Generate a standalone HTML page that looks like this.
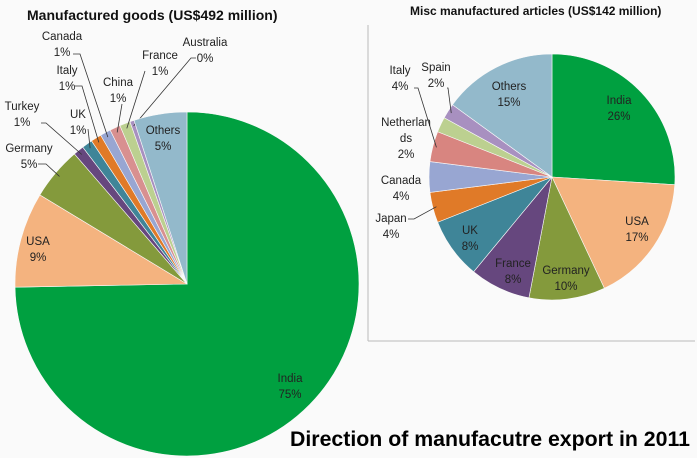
<!DOCTYPE html>
<html><head><meta charset="utf-8"><style>
body{margin:0;background:#fafafa;}
svg{display:block;font-family:"Liberation Sans",sans-serif;}
</style></head><body>
<svg width="697" height="458" viewBox="0 0 697 458">
<rect width="697" height="458" fill="#fafafa"/>
<line x1="368" y1="25" x2="368" y2="341" stroke="#bbb"/>
<line x1="368" y1="341" x2="695" y2="341" stroke="#bbb"/>
<text x="27" y="20" font-size="14" font-weight="bold" fill="#111">Manufactured goods (US$492 million)</text>
<text x="410" y="15" font-size="12" font-weight="bold" fill="#111">Misc manufactured articles (US$142 million)</text>
<text x="290" y="446" font-size="21.3" font-weight="bold" fill="#000">Direction of manufacutre export in 2011</text>
<g id="left"></g><g id="right"></g>
</svg>
<script>
const leftCats=["India","USA","Germany","Turkey","UK","Italy","Canada","China","France","Australia","Others"];
const leftVals=[75,9,5,1,1,1,1,1,1,0.4,5];
const leftLabels=["75%","9%","5%","1%","1%","1%","1%","1%","1%","0%","5%"];
const rightCats=["India","USA","Germany","France","UK","Japan","Canada","Italy","Netherlands","Spain","Others"];
const rightVals=[26,17,10,8,8,4,4,4,2,2,15];
const rightLabels=["26%","17%","10%","8%","8%","4%","4%","4%","2%","2%","15%"];
const leftColors=["#00a040","#f4b37f","#849a3c","#66477e","#3f8598","#e07a28","#98a6d2","#d89090","#bcd090","#a890c0","#93b9cb"];
const rightColors=["#00a040","#f4b37f","#849a3c","#66477e","#3f8598","#e07a28","#98a6d2","#d88580","#bcd090","#a890c0","#93b9cb"];
const NS="http://www.w3.org/2000/svg";
function drawPie(g,vals,cats,labs,colors,cx,cy,r,layout,prefix){
  const total=vals.reduce((a,b)=>a+b,0);
  let a0=0;
  vals.forEach((v,i)=>{
    const a1=a0+v/total*2*Math.PI;
    const x0=cx+r*Math.sin(a0),y0=cy-r*Math.cos(a0),x1=cx+r*Math.sin(a1),y1=cy-r*Math.cos(a1);
    const p=document.createElementNS(NS,"path");
    p.setAttribute("d",`M${cx},${cy}L${x0},${y0}A${r},${r} 0 ${a1-a0>Math.PI?1:0} 1 ${x1},${y1}Z`);
    p.setAttribute("fill",colors[i]);p.setAttribute("stroke","#fafafa");p.setAttribute("stroke-width","0.6");
    
    
    g.appendChild(p);
    const L=layout[i];
    const mid=(a0+a1)/2;
    if(L.line){
      const ln=document.createElementNS(NS,"polyline");
      const ex=cx+r*0.97*Math.sin(mid),ey=cy-r*0.97*Math.cos(mid);
      ln.setAttribute("points",`${L.line[0]},${L.line[1]} ${L.line[2]},${L.line[3]} ${ex},${ey}`);
      ln.setAttribute("fill","none");ln.setAttribute("stroke","#333");ln.setAttribute("stroke-width","0.8");
      
      
      g.appendChild(ln);
    }
    const lines=(L.name||cats[i]).split("|").concat([labs[i]]);
    const t=document.createElementNS(NS,"text");
    t.setAttribute("x",L.x);t.setAttribute("y",L.y);t.setAttribute("font-size","11.5");
    t.setAttribute("text-anchor","middle");t.setAttribute("fill","#222");
    
    
    lines.forEach((s,k)=>{const ts=document.createElementNS(NS,"tspan");ts.setAttribute("x",L.x);ts.setAttribute("dy",k?16:0);ts.textContent=s;t.appendChild(ts);});
    g.appendChild(t);
    a0=a1;
  });
}
const leftLayout=[
 {x:290,y:382},{x:38,y:245},{x:29,y:152,line:[38,164,46,164]},{x:22,y:110,line:[41,123,46,123]},
 {x:78,y:118,line:[88,129,88,129]},{x:67,y:74,line:[75,86,82,86]},{x:62,y:40,line:[73,54,80,54]},
 {x:118,y:86,line:[122,104,122,104]},{x:160,y:59,line:[145,71,145,71]},{x:205,y:46,line:[196,58,191,58]},{x:163,y:134}];
const rightLayout=[
 {x:619,y:104},{x:637,y:225},{x:566,y:274},{x:513,y:267},{x:470,y:234},
 {x:391,y:222,line:[408,219,414,219]},{x:401,y:184},{x:400,y:74,line:[414,88,418,88]},
 {x:406,y:126,name:"Netherlan|ds"},{x:436,y:71,line:[447,88,448,88]},{x:509,y:90}];
drawPie(document.getElementById("left"),leftVals,leftCats,leftLabels,leftColors,187,284,172,leftLayout,"left");
drawPie(document.getElementById("right"),rightVals,rightCats,rightLabels,rightColors,552,177,123,rightLayout,"right");
</script>
</body></html>
